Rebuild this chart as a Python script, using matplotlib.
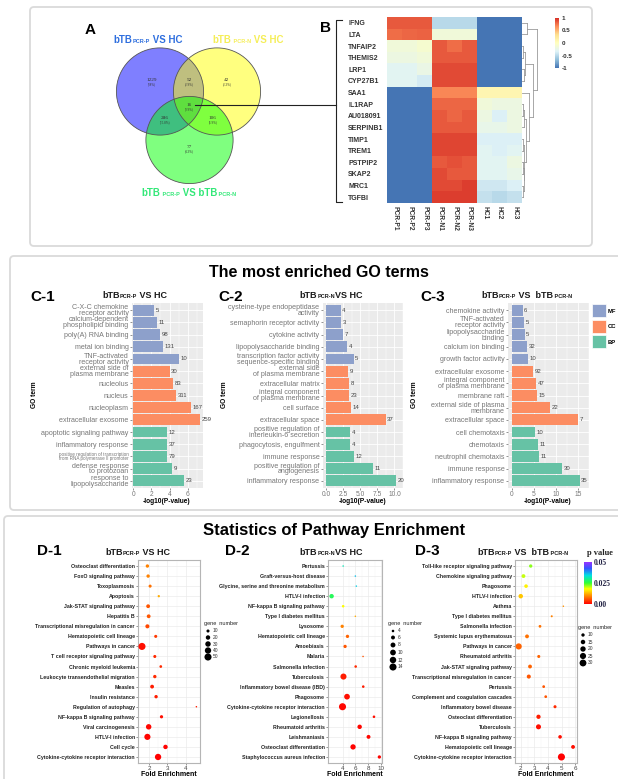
import numpy as np
import matplotlib
matplotlib.use("Agg")
import matplotlib.pyplot as plt
from matplotlib.patches import Circle, FancyBboxPatch
from matplotlib.colors import LinearSegmentedColormap, Normalize
from matplotlib.cm import ScalarMappable

plt.rcParams['font.family'] = ['Liberation Sans', 'DejaVu Sans']

# ---------------- DATA ----------------
venn_counts = [1229, 52, 42, 16, 286, 106, 77]
venn_pcts = ["(68%)", "(2.9%)", "(2.3%)", "(0.9%)", "(15.8%)", "(5.9%)", "(4.3%)"]

genes = ["IFNG", "LTA", "TNFAIP2", "THEMIS2", "LRP1", "CYP27B1", "SAA1", "IL1RAP",
         "AU018091", "SERPINB1", "TIMP1", "TREM1", "PSTPIP2", "SKAP2", "MRC1", "TGFBI"]
samples = ["PCR-P1", "PCR-P2", "PCR-P3", "PCR-N1", "PCR-N2", "PCR-N3", "HC1", "HC2", "HC3"]
heat = np.array([
    [0.85, 0.85, 0.85, -0.50, -0.50, -0.50, -1, -1, -1],
    [0.78, 0.80, 0.82, -0.15, -0.15, -0.15, -1, -1, -1],
    [-0.15, -0.15, -0.10, 0.85, 0.78, 0.85, -1, -1, -1],
    [-0.20, -0.20, -0.15, 0.85, 0.85, 0.85, -1, -1, -1],
    [-0.30, -0.30, -0.22, 0.90, 0.90, 0.90, -1, -1, -1],
    [-0.30, -0.30, -0.38, 0.90, 0.90, 0.90, -1, -1, -1],
    [-1, -1, -1, 0.68, 0.68, 0.68, 0.10, 0.10, 0.10],
    [-1, -1, -1, 0.80, 0.80, 0.80, -0.15, -0.20, -0.20],
    [-1, -1, -1, 0.85, 0.80, 0.85, -0.20, -0.35, -0.20],
    [-1, -1, -1, 0.85, 0.85, 0.85, -0.25, -0.25, -0.20],
    [-1, -1, -1, 0.92, 0.92, 0.92, -0.35, -0.35, -0.35],
    [-1, -1, -1, 0.92, 0.92, 0.92, -0.30, -0.35, -0.30],
    [-1, -1, -1, 0.85, 0.88, 0.85, -0.30, -0.30, -0.20],
    [-1, -1, -1, 0.90, 0.85, 0.85, -0.30, -0.30, -0.25],
    [-1, -1, -1, 0.90, 0.90, 0.95, -0.40, -0.40, -0.35],
    [-1, -1, -1, 0.95, 0.95, 0.95, -0.45, -0.50, -0.45],
])

go_cats = ["MF"] * 5 + ["CC"] * 5 + ["BP"] * 5

c1_terms = ["C-X-C chemokine\nreceptor activity", "calcium-dependent\nphospholipid binding",
            "poly(A) RNA binding", "metal ion binding", "TNF-activated\nreceptor activity",
            "external side of\nplasma membrane", "nucleolus", "nucleus", "nucleoplasm",
            "extracellular exosome", "apoptotic signaling pathway", "inflammatory response",
            "positive regulation of transcription\nfrom RNA polymerase II promoter",
            "defense response\nto protozoan", "response to\nlipopolysaccharide"]
c1_vals = [2.3, 2.6, 2.9, 3.3, 5.0, 4.0, 4.35, 4.7, 6.35, 7.4, 3.7, 3.7, 3.75, 4.3, 5.6]
c1_counts = [5, 11, 98, 131, 10, 30, 83, 311, 167, 259, 12, 37, 79, 9, 23]

c2_terms = ["cysteine-type endopeptidase\nactivity", "semaphorin receptor activity",
            "cytokine activity", "lipopolysaccharide binding",
            "transcription factor activity\nsequence-specific binding",
            "external side\nof plasma membrane", "extracellular matrix",
            "integral component\nof plasma membrane", "cell surface", "extracellular space",
            "positive regulation of\ninterleukin-6 secretion", "phagocytosis, engulfment",
            "immune response", "positive regulation of\nangiogenesis", "inflammatory response"]
c2_vals = [2.1, 2.2, 2.4, 3.0, 4.0, 3.15, 3.3, 3.35, 3.6, 8.7, 3.5, 3.5, 4.05, 6.85, 10.2]
c2_counts = [4, 3, 7, 4, 5, 9, 8, 23, 14, 37, 4, 4, 12, 11, 20]

c3_terms = ["chemokine activity", "TNF-activated\nreceptor activity", "lipopolysaccharide\nbinding",
            "calcium ion binding", "growth factor activity", "extracellular exosome",
            "integral component\nof plasma membrane", "membrane raft",
            "external side of plasma\nmembrane", "extracellular space", "cell chemotaxis",
            "chemotaxis", "neutrophil chemotaxis", "immune response", "inflammatory response"]
c3_vals = [2.4, 2.7, 2.85, 3.35, 3.7, 4.85, 5.5, 5.7, 8.65, 15.1, 5.15, 5.9, 6.15, 11.35, 15.35]
c3_counts = [6, 5, 5, 32, 10, 92, 47, 15, 22, 7, 10, 11, 11, 30, 35]

d1_paths = ["Osteoclast differentiation", "FoxO signaling pathway", "Toxoplasmosis", "Apoptosis",
            "Jak-STAT signaling pathway", "Hepatitis B", "Transcriptional misregulation in cancer",
            "Hematopoietic cell lineage", "Pathways in cancer", "T cell receptor signaling pathway",
            "Chronic myeloid leukemia", "Leukocyte transendothelial migration", "Measles",
            "Insulin resistance", "Regulation of autophagy", "NF-kappa B signaling pathway",
            "Viral carcinogenesis", "HTLV-I infection", "Cell cycle",
            "Cytokine-cytokine receptor interaction"]
d1_fe = [1.89, 1.93, 2.04, 2.52, 1.93, 1.96, 1.89, 2.35, 1.59, 2.30, 2.63, 2.30, 2.15, 2.37,
         4.60, 2.67, 1.96, 1.89, 2.89, 2.48]
d1_genes = [12, 12, 10, 6, 15, 15, 17, 10, 50, 10, 8, 12, 15, 12, 3, 11, 30, 38, 20, 40]
d1_p = [0.009, 0.009, 0.008, 0.012, 0.006, 0.006, 0.005, 0.004, 0.001, 0.003, 0.003, 0.003,
        0.002, 0.002, 0.002, 0.001, 0.0005, 0.0003, 0.0002, 0.0001]

d2_paths = ["Pertussis", "Graft-versus-host disease", "Glycine, serine and threonine metabolism",
            "HTLV-I infection", "NF-kappa B signaling pathway", "Type I diabetes mellitus",
            "Lysosome", "Hematopoietic cell lineage", "Amoebiasis", "Malaria",
            "Salmonella infection", "Tuberculosis", "Inflammatory bowel disease (IBD)",
            "Phagosome", "Cytokine-cytokine receptor interaction", "Legionellosis",
            "Rheumatoid arthritis", "Leishmaniasis", "Osteoclast differentiation",
            "Staphylococcus aureus infection"]
d2_fe = [4.1, 6.0, 6.15, 2.3, 4.1, 6.0, 3.95, 4.77, 4.4, 7.2, 6.05, 4.15, 7.23, 4.7, 4.0,
         8.9, 6.67, 8.05, 5.64, 9.74]
d2_genes = [3, 3, 3, 7, 4, 3, 5, 5, 5, 3, 4, 11, 4, 10, 14, 4, 7, 6, 9, 5]
d2_p = [0.032, 0.036, 0.035, 0.027, 0.018, 0.012, 0.009, 0.007, 0.006, 0.006, 0.003, 0.002,
        0.002, 0.001, 0.0005, 0.001, 0.0005, 0.0005, 0.0003, 0.0002]

d3_paths = ["Toll-like receptor signaling pathway", "Chemokine signaling pathway", "Phagosome",
            "HTLV-I infection", "Asthma", "Type I diabetes mellitus", "Salmonella infection",
            "Systemic lupus erythematosus", "Pathways in cancer", "Rheumatoid arthritis",
            "Jak-STAT signaling pathway", "Transcriptional misregulation in cancer", "Pertussis",
            "Complement and coagulation cascades", "Inflammatory bowel disease",
            "Osteoclast differentiation", "Tuberculosis", "NF-kappa B signaling pathway",
            "Hematopoietic cell lineage", "Cytokine-cytokine receptor interaction"]
d3_fe = [2.73, 2.2, 2.39, 2.0, 5.12, 4.27, 3.41, 2.46, 1.85, 3.32, 2.68, 2.59, 3.68, 3.83,
         4.51, 3.3, 3.3, 4.88, 5.83, 4.98]
d3_genes = [10, 12, 11, 15, 5, 6, 8, 12, 25, 9, 12, 13, 8, 8, 9, 14, 18, 11, 12, 32]
d3_p = [0.022, 0.020, 0.017, 0.014, 0.010, 0.009, 0.008, 0.008, 0.007, 0.007, 0.007, 0.006,
        0.006, 0.006, 0.003, 0.002, 0.001, 0.001, 0.001, 0.0001]

d1_leg = [10, 20, 30, 40, 50]
d2_leg = [4, 6, 8, 10, 12, 14]
d3_leg = [10, 15, 20, 25, 30]

# ---------------- FIGURE ----------------
W, H = 618, 779
fig = plt.figure(figsize=(W / 100, H / 100), dpi=100)


def px_axes(x0, y0, x1, y1):
    return fig.add_axes([x0 / W, 1 - y1 / H, (x1 - x0) / W, (y1 - y0) / H])


ov = px_axes(0, 0, W, H)
ov.set_xlim(0, W)
ov.set_ylim(H, 0)
ov.axis('off')
renderer = fig.canvas.get_renderer()

# panel boxes
for (x0, y0, x1, y1) in [(30, 7, 592, 246), (10, 256, 626, 510), (4, 516, 626, 790)]:
    ov.add_patch(FancyBboxPatch((x0, y0), x1 - x0, y1 - y0,
                                boxstyle="round,pad=0,rounding_size=4",
                                fc='white', ec='#dadada', lw=1.3, zorder=0))


def pieces(x, y, parts, color='#1a1a1a'):
    objs, widths = [], []
    for s, sz in parts:
        t = ov.text(0, y, s, fontsize=sz, fontweight='bold', color=color,
                    ha='left', va='baseline', zorder=5)
        w = t.get_window_extent(renderer).width
        objs.append(t)
        widths.append(w)
    cur = x - sum(widths) / 2
    for t, w in zip(objs, widths):
        t.set_x(cur)
        cur += w


# ---------------- A : Venn ----------------
ov.text(85, 34, "A", fontsize=11, fontweight='bold', zorder=5)
for (cx, cy, col) in [(160, 91.5, '#0000ff'), (217, 91.5, '#ffff00'), (189.5, 140, '#00ff00')]:
    ov.add_patch(Circle((cx, cy), 43.6, fc=col, alpha=0.5, ec='none', zorder=2))
    ov.add_patch(Circle((cx, cy), 43.6, fc='none', ec='#555555', lw=0.6, zorder=3))
venn_pos = [(152, 80), (189, 80), (227, 80), (189, 105), (165, 118), (213, 118), (189, 147)]
for (x, y), n, p in zip(venn_pos, venn_counts, venn_pcts):
    ov.text(x, y, str(n), fontsize=3.8, ha='center', va='center', family='Liberation Serif',
            color='#333333', zorder=5)
    ov.text(x, y + 4.5, p, fontsize=2.3, ha='center', va='center', family='Liberation Serif',
            color='#333333', zorder=5)
pieces(148, 43, [("bTB", 7), ("PCR-P", 4), (" VS HC", 7)], color='#2f6fde')
pieces(248, 43, [("bTB", 7), (" PCR-N", 4), (" VS HC", 7)], color='#f5ee58')
pieces(189, 196, [("bTB", 7), (" PCR-P", 4), (" VS bTB", 7), (" PCR-N", 4)], color='#33e878')

# connector line and bracket
ov.plot([195, 336], [105, 105], color='#222222', lw=0.8, zorder=6)
ov.plot([342, 336, 336, 342], [20, 20, 202, 202], color='#222222', lw=0.8, zorder=6)

# ---------------- B : heatmap ----------------
ov.text(320, 32, "B", fontsize=11, fontweight='bold', zorder=5)
hm_cmap = LinearSegmentedColormap.from_list(
    'rdylbu', ['#4575b4', '#91bfdb', '#e0f3f8', '#ffffbf', '#fee090', '#fc8d59', '#d73027'])
axh = px_axes(387, 17, 522, 203)
im = axh.imshow(heat, cmap=hm_cmap, vmin=-1, vmax=1, aspect='auto', interpolation='nearest')
axh.set_xticks(range(len(samples)))
axh.set_xticklabels(samples, rotation=270, fontsize=4.8, fontweight='bold', color='#333333')
axh.set_yticks(range(len(genes)))
axh.set_yticklabels(genes, fontsize=5, fontweight='bold', color='#333333')
for lab in axh.get_yticklabels():
    lab.set_ha('left')
axh.tick_params(axis='y', length=0, pad=28)
axh.tick_params(axis='x', length=0, pad=2)
for s in axh.spines.values():
    s.set_visible(False)

# row dendrogram
A_ = [[2, 3, 0.08], [4, 5, 0.1], 0.18]
Brest = [[[7, 8, 0.08], 9, 0.12], [[10, 11, 0.06], [[12, 13, 0.08], [14, 15, 0.07], 0.12], 0.16], 0.25]
B_ = [6, Brest, 0.45]
root = [[0, 1, 0.3], [A_, B_, 0.75], 1.0]


def draw_tree(node):
    if isinstance(node, int):
        return node, 0.0
    ly, lh = draw_tree(node[0])
    ry, rh = draw_tree(node[1])
    h = node[2]
    x0 = 8.5
    kw = dict(color='#9a9a9a', lw=0.6, clip_on=False)
    axh.plot([x0 + lh, x0 + h], [ly, ly], **kw)
    axh.plot([x0 + rh, x0 + h], [ry, ry], **kw)
    axh.plot([x0 + h, x0 + h], [ly, ry], **kw)
    return (ly + ry) / 2, h


draw_tree(root)
axh.set_xlim(-0.5, 8.5)
axh.set_ylim(15.5, -0.5)

cax = px_axes(555, 18, 559, 68)
cb = fig.colorbar(im, cax=cax, ticks=[1, 0.5, 0, -0.5, -1])
cb.outline.set_visible(False)
cax.tick_params(labelsize=4.5, length=0, pad=2)
cax.set_yticklabels(["1", "0.5", "0", "-0.5", "-1"], fontweight='bold', color='#333333')

# ---------------- C : GO bars ----------------
ov.text(319, 272, "The most enriched GO terms", fontsize=11.5, fontweight='bold',
        ha='center', va='center', zorder=5)
cat_colors = {"MF": "#8da0cb", "CC": "#fc8d62", "BP": "#66c2a5"}


def bar_panel(rect, terms, vals, counts, xlim, xticks, xticklabels):
    ax = px_axes(*rect)
    ax.set_facecolor('#ebebeb')
    y = np.arange(len(vals))
    ax.barh(y, vals, height=0.9, color=[cat_colors[c] for c in go_cats], zorder=3)
    for i, (v, c) in enumerate(zip(vals, counts)):
        ax.annotate(str(c), (v, i), xytext=(1.2, 0), textcoords='offset points',
                    fontsize=4.3, va='center', ha='left', color='#444444', zorder=4)
    ax.set_xlim(*xlim)
    ax.set_ylim(len(vals) - 0.4, -0.6)
    ax.set_xticks(xticks)
    ax.set_xticklabels(xticklabels)
    step = xticks[1] - xticks[0]
    ax.set_xticks([t + step / 2 for t in xticks], minor=True)
    ax.set_yticks(y)
    ax.set_yticklabels(terms)
    ax.tick_params(axis='both', which='major', labelsize=4.8, labelcolor='#777777',
                   color='#666666', length=1.5, width=0.5, pad=1)
    ax.tick_params(axis='y', labelsize=5.1)
    ax.tick_params(which='minor', length=0)
    for lab in ax.get_yticklabels():
        lab.set_linespacing(0.78)
        if lab.get_text().startswith("positive regulation of transcription"):
            lab.set_fontsize(3.3)
    ax.set_axisbelow(True)
    ax.grid(which='major', color='white', lw=0.6)
    ax.grid(which='minor', axis='x', color='white', lw=0.3)
    for s in ax.spines.values():
        s.set_visible(False)
    return ax


bar_panel((132, 303, 203, 488), c1_terms, c1_vals, c1_counts, (-0.15, 7.7),
          [0, 2, 4, 6], ["0", "2", "4", "6"])
bar_panel((323, 303, 403, 488), c2_terms, c2_vals, c2_counts, (-0.47, 10.6),
          [0, 2.5, 5, 7.5, 10], ["0.0", "2.5", "5.0", "7.5", "10.0"])
bar_panel((508, 303, 589, 488), c3_terms, c3_vals, c3_counts, (-0.9, 16.4),
          [0, 5, 10, 15], ["0", "5", "10", "15"])

for (lx, lab, title_x, gx, px_c, parts) in [
        (30, "C-1", 135, 35, 167, [("bTB", 6.5), ("PCR-P", 4), (" VS HC", 6.5)]),
        (218, "C-2", 331, 225, 363, [("bTB", 6.5), ("PCR-N", 4), ("VS HC", 6.5)]),
        (420, "C-3", 527, 415, 548, [("bTB", 6.5), ("PCR-P", 4), (" VS  bTB", 6.5), (" PCR-N", 4)])]:
    ov.text(lx, 301, lab, fontsize=11, fontweight='bold', zorder=5)
    pieces(title_x, 298, parts)
    ov.text(gx, 395, "GO term", rotation=90, fontsize=4.8, fontweight='bold',
            ha='center', va='center', zorder=5)
    ov.text(px_c, 501, "-log10(P-value)", fontsize=4.8, fontweight='bold',
            ha='center', va='center', zorder=5)

# legend C
for (yy, cat) in [(304, "MF"), (319.5, "CC"), (335, "BP")]:
    ov.add_patch(plt.Rectangle((592, yy), 14, 13, fc=cat_colors[cat], ec='white', lw=0.5, zorder=5))
    ov.text(607.5, yy + 7, cat, fontsize=4.2, fontweight='bold', va='center', zorder=5)

# ---------------- D : pathway dot plots ----------------
ov.text(334, 530, "Statistics of Pathway Enrichment", fontsize=12, fontweight='bold',
        ha='center', va='center', zorder=5)
pcmap = LinearSegmentedColormap.from_list(
    'pv', [(0, '#ff0000'), (0.2, '#ff9000'), (0.36, '#ffff00'), (0.5, '#33ff33'),
           (0.68, '#00e0e0'), (0.85, '#3355ff'), (1.0, '#9933ff')])


def size_of(n, lo, hi):
    return 1.2 + (26 - 1.2) * (np.asarray(n, dtype=float) - lo) / (hi - lo)


def dot_panel(rect, paths, fe, gn, pv, xlim, xticks):
    ax = px_axes(*rect)
    lo, hi = min(gn), max(gn)
    y = np.arange(len(paths))
    ax.scatter(fe, y, s=size_of(gn, lo, hi), c=pv, cmap=pcmap, vmin=0, vmax=0.05,
               linewidths=0, zorder=3)
    ax.set_xlim(*xlim)
    ax.set_ylim(len(paths) - 0.4, -0.6)
    ax.set_xticks(xticks)
    ax.set_xticks([(a + b) / 2 for a, b in zip(xticks[:-1], xticks[1:])], minor=True)
    ax.set_yticks(y)
    ax.set_yticklabels(paths)
    ax.set_axisbelow(True)
    ax.grid(which='major', color='#ebebeb', lw=0.5)
    ax.grid(which='minor', axis='x', color='#f3f3f3', lw=0.3)
    for s in ax.spines.values():
        s.set_color('#b5b5b5')
        s.set_linewidth(0.8)
    ax.tick_params(axis='y', labelsize=3.8, length=1.2, width=0.4, pad=1, color='#444444')
    ax.tick_params(axis='x', labelsize=4.5, length=1.2, width=0.4, pad=1, color='#444444',
                   labelcolor='#444444')
    for lab in ax.get_yticklabels():
        lab.set_fontweight('bold')
        lab.set_color('#222222')
    ax.tick_params(which='minor', length=0)
    return lo, hi


r1 = dot_panel((138, 560, 200, 763), d1_paths, d1_fe, d1_genes, d1_p, (1.37, 4.8), [2, 3, 4])
r2 = dot_panel((328, 560, 382, 763), d2_paths, d2_fe, d2_genes, d2_p, (1.74, 10.15), [4, 6, 8, 10])
r3 = dot_panel((515, 560, 577, 763), d3_paths, d3_fe, d3_genes, d3_p, (1.58, 6.12), [2, 3, 4, 5, 6])

for (lx, tx, cx, lab, parts) in [
        (37, 138, 169, "D-1", [("bTB", 6.5), ("PCR-P", 4), (" VS HC", 6.5)]),
        (225, 331, 355, "D-2", [("bTB", 6.5), ("PCR-N", 4), ("VS HC", 6.5)]),
        (415, 523, 546, "D-3", [("bTB", 6.5), ("PCR-P", 4), (" VS  bTB", 6.5), (" PCR-N", 4)])]:
    ov.text(lx, 555, lab, fontsize=11, fontweight='bold', zorder=5)
    pieces(tx, 555, parts)
    ov.text(cx, 775, "Fold Enrichment", fontsize=5, fontweight='bold', ha='center',
            va='center', zorder=5)

# size legends
for (tx, ty, mx, ys, vals, (lo, hi)) in [
        (204, 624, 208, [631, 637.5, 644, 650.5, 657], d1_leg, r1),
        (388, 624, 393, [631, 637.5, 645, 652.5, 660, 667], d2_leg, r2),
        (578, 628, 583, [635, 642, 649, 656, 663], d3_leg, r3)]:
    ov.text(tx, ty, "gene  number", fontsize=4, ha='left', va='center', color='#222222', zorder=5)
    ov.scatter([mx] * len(vals), ys, s=size_of(vals, lo, hi), c='black', linewidths=0, zorder=5)
    for yy, v in zip(ys, vals):
        ov.text(mx + 5, yy, str(v), fontsize=3.5, ha='left', va='center', color='#333333', zorder=5)

# p value colorbar
ov.text(587, 553, "p value", fontsize=6, fontweight='bold', family='Liberation Serif',
        ha='left', va='center', color='#222222', zorder=5)
pax = px_axes(584, 562, 592, 604)
pcb = fig.colorbar(ScalarMappable(norm=Normalize(0, 0.05), cmap=pcmap), cax=pax,
                   ticks=[0, 0.025, 0.05])
pcb.outline.set_visible(False)
pax.tick_params(length=0, pad=1.5, labelsize=5.5)
pax.set_yticklabels(["0.00", "0.025", "0.05"], family='Liberation Serif', fontweight='bold',
                    color='#222244')

fig.savefig("out.png", dpi=100)
